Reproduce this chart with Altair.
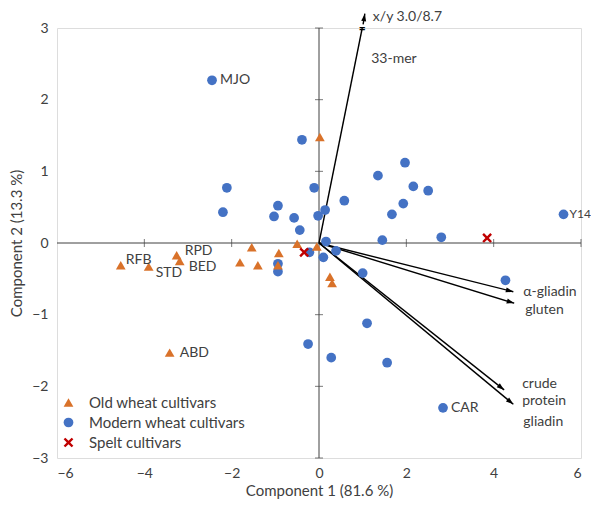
import math
import altair as alt
import pandas as pd

# ---------------- data ----------------
modern_x = [-2.45, -0.39, -2.11, -2.20, -0.94, -1.03, -0.57, -0.44, -0.11, -0.02, 0.14, 0.58,
            1.35, 1.97, 2.16, 2.50, 1.93, 1.67, 1.45, 2.80, 5.60, 0.16, 0.39, 0.10, 1.00, 4.27,
            1.10, -0.25, 0.28, 1.56, 2.84, -0.94, -0.94, -0.22]
modern_y = [2.27, 1.44, 0.77, 0.43, 0.52, 0.37, 0.35, 0.18, 0.77, 0.38, 0.46, 0.59,
            0.94, 1.12, 0.79, 0.73, 0.55, 0.40, 0.04, 0.08, 0.40, 0.02, -0.11, -0.20, -0.42, -0.52,
            -1.12, -1.41, -1.60, -1.67, -2.30, -0.29, -0.40, -0.13]
old_x = [-4.54, -3.90, -3.26, -3.19, -3.42, -1.81, -1.54, -1.40, -0.92, -0.94, -0.50, -0.05, 0.02, 0.25, 0.30]
old_y = [-0.31, -0.33, -0.17, -0.25, -1.53, -0.27, -0.06, -0.31, -0.14, -0.31, -0.01, -0.05, 1.48, -0.47, -0.56]
spelt_x = [-0.34, 3.85]
spelt_y = [-0.13, 0.07]

# labelled cultivars: name, x, y
label_names = ["MJO", "Y14", "CAR", "RFB", "STD", "RPD", "BED", "ABD"]
label_x = [-2.45, 5.60, 2.84, -4.54, -3.90, -3.26, -3.19, -3.42]
label_y = [2.27, 0.40, -2.30, -0.31, -0.33, -0.17, -0.25, -1.53]

# loading vectors (biplot arrows)
load_names = ["α-gliadin", "gluten", "crude protein", "gliadin", "33-mer"]
load_x = [4.45, 4.47, 4.24, 4.45, 0.99]
load_y = [-0.68, -0.84, -2.05, -2.25, 3.00]

# small out-of-range arrow for 33-mer
mer_arrow_x = [1.01, 1.05]
mer_arrow_y = [3.05, 3.20]
mer_note = "x/y 3.0/8.7"

x_ticks = [-6, -4, -2, 0, 2, 4, 6]
y_ticks = [-3, -2, -1, 0, 1, 2, 3]

groups = ["Old wheat cultivars", "Modern wheat cultivars", "Spelt cultivars"]
colors = ["#D9722A", "#4472C4", "#C00000"]

# ---------------- styles ----------------
W, H = 524, 430
PX_X = W / 12.0
PX_Y = H / 6.0
FONT = "Lato"
TXT = "#404040"
X_PATH = "M-1,-0.65L-0.65,-1L0,-0.35L0.65,-1L1,-0.65L0.35,0L1,0.65L0.65,1L0,0.35L-0.65,1L-1,0.65L-0.35,0Z"
HEAD_PATH = "M0,0L0.5,1.5L-0.5,1.5Z"
shapes = ["triangle-up", "circle", X_PATH]

xs = alt.Scale(domain=[-6, 6], nice=False, zero=False)
ys = alt.Scale(domain=[-3, 3], nice=False, zero=False)

x_axis = alt.Axis(values=x_ticks, domain=False, ticks=False, grid=False, labelPadding=8,
                  title="Component 1 (81.6 %)", titlePadding=3, labelFontSize=14,
                  titleFontSize=15, labelColor=TXT, titleColor=TXT,
                  labelFont=FONT, titleFont=FONT, titleFontWeight="normal")
y_axis = alt.Axis(values=y_ticks, domain=False, ticks=False, grid=False, labelPadding=9,
                  title="Component 2 (13.3 %)", titlePadding=7, labelFontSize=14,
                  titleFontSize=15, labelColor=TXT, titleColor=TXT,
                  labelFont=FONT, titleFont=FONT, titleFontWeight="normal")


def X(field="x"):
    return alt.X(f"{field}:Q", scale=xs, axis=x_axis)


def Y(field="y"):
    return alt.Y(f"{field}:Q", scale=ys, axis=y_axis)


# ---------------- frames ----------------
pts = pd.DataFrame({
    "x": old_x + modern_x + spelt_x,
    "y": old_y + modern_y + spelt_y,
    "group": [groups[0]] * len(old_x) + [groups[1]] * len(modern_x) + [groups[2]] * len(spelt_x),
    "order": [2] * len(old_x) + [1] * len(modern_x) + [3] * len(spelt_x),
})

hline = pd.DataFrame({"x": [x_ticks[0]], "x2": [x_ticks[-1]], "y": [0]})
vline = pd.DataFrame({"x": [0], "y": [y_ticks[0]], "y2": [y_ticks[-1]]})
xt = pd.DataFrame({"x": [t for t in x_ticks if t not in (-6, 0)], "y": 0})
yt = pd.DataFrame({"x": 0, "y": [t for t in y_ticks if t != 0]})

arrows = pd.DataFrame({"x": 0.0, "y": 0.0, "x2": load_x, "y2": load_y, "name": load_names})


def head_angle(dx, dy):
    return math.degrees(math.atan2(dx * PX_X, dy * PX_Y))


heads = pd.DataFrame({
    "x": load_x[:4] + [mer_arrow_x[1]],
    "y": load_y[:4] + [mer_arrow_y[1]],
    "angle": [head_angle(a, b) for a, b in zip(load_x[:4], load_y[:4])]
             + [head_angle(mer_arrow_x[1] - mer_arrow_x[0], mer_arrow_y[1] - mer_arrow_y[0])],
})
mer_seg = pd.DataFrame({"x": [mer_arrow_x[0]], "y": [mer_arrow_y[0]],
                        "x2": [mer_arrow_x[1]], "y2": [mer_arrow_y[1]]})

# ---------------- layers ----------------
frame_rules = [
    alt.Chart(hline).mark_rule(color="#404040", strokeWidth=1).encode(x=X(), x2="x2:Q", y=Y()),
    alt.Chart(vline).mark_rule(color="#404040", strokeWidth=1).encode(x=X(), y=Y(), y2="y2:Q"),
    alt.Chart(xt).mark_tick(orient="vertical", size=8, thickness=1, color="#404040").encode(x=X(), y=Y()),
    alt.Chart(yt).mark_tick(orient="horizontal", size=8, thickness=1, color="#404040").encode(x=X(), y=Y()),
]

points_layer = alt.Chart(pts).mark_point(filled=True, size=95, opacity=1).encode(
    x=X(), y=Y(),
    color=alt.Color("group:N", scale=alt.Scale(domain=groups, range=colors),
                    legend=alt.Legend(title=None, orient="none", legendX=4, legendY=367,
                                      labelFont=FONT, labelFontSize=15, labelColor=TXT,
                                      symbolSize=95, rowPadding=4, labelOffset=13,
                                      symbolStrokeWidth=0)),
    shape=alt.Shape("group:N", scale=alt.Scale(domain=groups, range=shapes), legend=None),
    order=alt.Order("order:Q"),
)

arrow_rules = alt.Chart(arrows).mark_rule(color="black", strokeWidth=1.4).encode(
    x=X(), y=Y(), x2="x2:Q", y2="y2:Q")
mer_rule = alt.Chart(mer_seg).mark_rule(color="black", strokeWidth=1.4).encode(
    x=X(), y=Y(), x2="x2:Q", y2="y2:Q")
head_layer = alt.Chart(heads).mark_point(shape=HEAD_PATH, filled=True, size=100, color="black",
                                         opacity=1).encode(
    x=X(), y=Y(), angle=alt.Angle("angle:Q", scale=None))

brk = alt.Chart(pd.DataFrame({"x": [load_x[4]], "y": [load_y[4]]})).mark_text(
    text="=", fontSize=12, font=FONT, color="black", fontWeight="bold").encode(x=X(), y=Y())

text_layers = []
label_offsets = {
    "MJO": (8, 0, 14), "Y14": (6, 0, 12), "CAR": (8, 0, 14), "RFB": (5, -5, 14),
    "STD": (7, 6, 14), "RPD": (8, -4, 14), "BED": (9, 6, 14), "ABD": (10, 0, 14),
}
for n, lx, ly in zip(label_names, label_x, label_y):
    dx, dy, fs = label_offsets[n]
    text_layers.append(
        alt.Chart(pd.DataFrame({"x": [lx], "y": [ly], "t": [n]})).mark_text(
            align="left", baseline="middle", dx=dx, dy=dy, font=FONT, fontSize=fs,
            color=TXT).encode(x=X(), y=Y(), text="t:N"))

load_offsets = {
    "α-gliadin": (10, 0, "α-gliadin"),
    "gluten": (11, 7, "gluten"),
    "crude protein": (18, -6, ["crude", "protein"]),
    "gliadin": (10, 18, "gliadin"),
    "33-mer": (9, 31, "33-mer"),
}
for n, lx, ly in zip(load_names, load_x, load_y):
    dx, dy, t = load_offsets[n]
    text_layers.append(
        alt.Chart(pd.DataFrame({"x": [lx], "y": [ly]})).mark_text(
            align="left", baseline="middle", dx=dx, dy=dy, font=FONT, fontSize=14,
            color=TXT, text=t, lineHeight=17).encode(x=X(), y=Y()))

text_layers.append(
    alt.Chart(pd.DataFrame({"x": [mer_arrow_x[1]], "y": [mer_arrow_y[1]]})).mark_text(
        align="left", baseline="middle", dx=8, dy=3, font=FONT, fontSize=14,
        color=TXT, text=mer_note).encode(x=X(), y=Y()))

chart = alt.layer(
    *frame_rules, arrow_rules, mer_rule, brk, head_layer, points_layer, *text_layers
).properties(
    width=W, height=H,
    autosize=alt.AutoSizeParams(type="none"),
    padding={"left": 49, "top": 20, "right": 10, "bottom": 42},
).configure_view(stroke="#c4c4c4", strokeWidth=1).configure(background="white")

chart.save("out.html", embed_options={"renderer": "svg", "actions": False})
